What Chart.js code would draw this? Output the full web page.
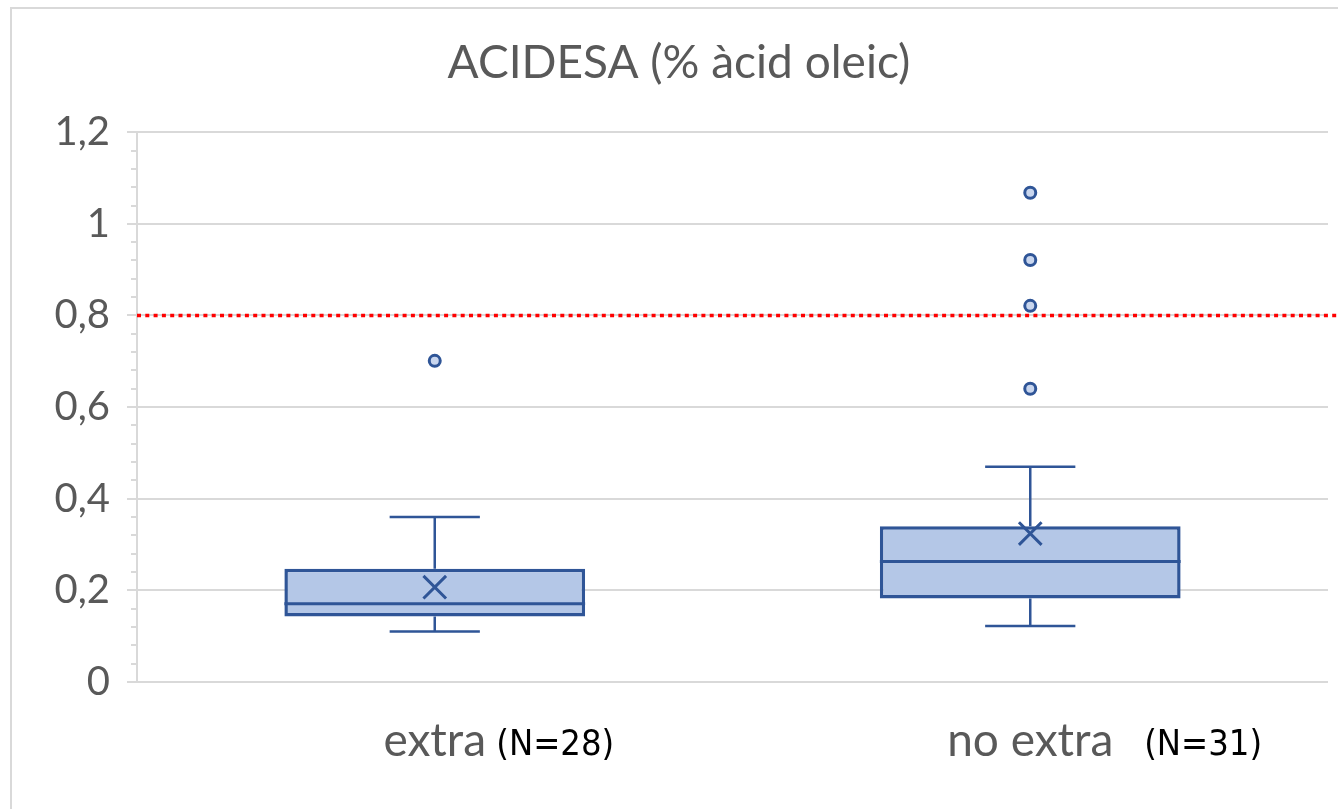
<!DOCTYPE html>
<html>
<head>
<meta charset="utf-8">
<script src="https://cdn.jsdelivr.net/npm/chart.js@4"></script>
<style>
    html, body { margin: 0; padding: 0; background: #fff; overflow: hidden; }
    #wrap { width: 1338px; height: 809px; position: relative; }
</style>
</head>
<body>
<div id="wrap"><canvas id="boxChart"></canvas></div>
<script>
// Box plot data
const categories = ['extra', 'no extra'];
const sampleSizes = [' (N=28)', '   (N=31)'];
const whiskerLow = [0.110, 0.122];
const q1 = [0.143, 0.182];
const median = [0.171, 0.263];
const q3 = [0.247, 0.340];
const whiskerHigh = [0.360, 0.470];
const means = [0.207, 0.324];
const outliers = [[0.701], [1.068, 0.921, 0.821, 0.640]];
const limitValue = 0.8;
const yTicks = [0, 0.2, 0.4, 0.6, 0.8, 1, 1.2];

const boxBlue = '#2f5597';
const boxFill = '#b4c7e7';
const textGrey = '#595959';
const gridGrey = '#d9d9d9';
const labelFont = '46px Lato';

const outlierPoints = [];
outliers.forEach((list, i) => list.forEach(v => outlierPoints.push({ x: categories[i], y: v })));

// frame, minor ticks, limit line, whiskers and N labels
const extrasPlugin = {
    id: 'extras',
    beforeDraw(chart) {
        const ctx = chart.ctx;
        ctx.save();
        ctx.fillStyle = '#fff';
        ctx.fillRect(0, 0, chart.width, chart.height);
        ctx.strokeStyle = gridGrey;
        ctx.lineWidth = 2;
        ctx.strokeRect(11, 8, chart.width + 20, chart.height + 20);
        ctx.restore();
    },
    beforeDatasetsDraw(chart) {
        const ctx = chart.ctx;
        const y = chart.scales.y;
        const area = chart.chartArea;
        ctx.save();
        // minor ticks
        ctx.strokeStyle = gridGrey;
        ctx.lineWidth = 2;
        for (let k = 0; k <= 30; k++) {
            const py = Math.round(y.getPixelForValue(k * 0.04));
            ctx.beginPath();
            ctx.moveTo(area.left - 6, py);
            ctx.lineTo(area.left, py);
            ctx.stroke();
        }
        // limit line
        const ly = y.getPixelForValue(limitValue);
        ctx.strokeStyle = '#ff0000';
        ctx.lineWidth = 3.5;
        ctx.setLineDash([4, 4.3]);
        ctx.beginPath();
        ctx.moveTo(area.left, ly);
        ctx.lineTo(chart.width, ly);
        ctx.stroke();
        ctx.restore();
    },
    afterDatasetDraw(chart, args) {
        if (args.meta.type !== 'bar') return;
        const ctx = chart.ctx;
        const y = chart.scales.y;
        ctx.save();
        ctx.strokeStyle = boxBlue;
        args.meta.data.forEach((bar, i) => {
            const cx = bar.x;
            const half = bar.width / 2;
            const cap = bar.width * 0.15;
            const lo = y.getPixelForValue(whiskerLow[i]);
            const hi = y.getPixelForValue(whiskerHigh[i]);
            const b1 = y.getPixelForValue(q1[i]);
            const b3 = y.getPixelForValue(q3[i]);
            const md = y.getPixelForValue(median[i]);
            ctx.lineWidth = 2.5;
            ctx.beginPath();
            ctx.moveTo(cx, b3); ctx.lineTo(cx, hi);
            ctx.moveTo(cx - cap, hi); ctx.lineTo(cx + cap, hi);
            ctx.moveTo(cx, b1); ctx.lineTo(cx, lo);
            ctx.moveTo(cx - cap, lo); ctx.lineTo(cx + cap, lo);
            ctx.stroke();
            ctx.lineWidth = 3;
            ctx.beginPath();
            ctx.moveTo(cx - half, md); ctx.lineTo(cx + half, md);
            ctx.stroke();
        });
        ctx.restore();
    },
    afterDraw(chart) {
        const ctx = chart.ctx;
        const x = chart.scales.x;
        ctx.save();
        ctx.textBaseline = 'middle';
        ctx.textAlign = 'left';
        categories.forEach((cat, i) => {
            ctx.font = labelFont;
            const w = ctx.measureText(cat).width;
            const px = x.getPixelForTick(i) + w / 2;
            ctx.font = '36px "DejaVu Sans Condensed", "Liberation Sans Narrow", "DejaVu Sans"';
            ctx.fillStyle = '#000';
            ctx.fillText(sampleSizes[i], px, 746);
        });
        ctx.restore();
    }
};

const ctx = document.getElementById('boxChart').getContext('2d');
new Chart(ctx, {
    type: 'bar',
    data: {
        labels: categories,
        datasets: [
            {
                label: 'mitjana',
                type: 'line',
                order: 1,
                showLine: false,
                data: categories.map((c, i) => ({ x: c, y: means[i] })),
                pointStyle: 'crossRot',
                pointRadius: 16,
                pointBorderWidth: 3,
                pointBorderColor: boxBlue,
                borderColor: boxBlue
            },
            {
                label: 'outliers',
                type: 'line',
                order: 2,
                showLine: false,
                data: outlierPoints,
                pointStyle: 'circle',
                pointRadius: 5.5,
                pointBorderWidth: 3,
                pointBorderColor: boxBlue,
                pointBackgroundColor: '#c9d6ee'
            },
            {
                label: 'caixa',
                order: 3,
                data: categories.map((c, i) => [q1[i], q3[i]]),
                backgroundColor: boxFill,
                borderColor: boxBlue,
                borderWidth: 3.5,
                borderSkipped: false,
                categoryPercentage: 1,
                barPercentage: 0.505
            }
        ]
    },
    options: {
        responsive: true,
        maintainAspectRatio: false,
        animation: false,
        layout: { autoPadding: false, padding: { left: 30, right: 10, top: 0, bottom: 0 } },
        plugins: {
            legend: { display: false },
            tooltip: { enabled: false },
            title: {
                display: true,
                text: 'ACIDESA (% àcid oleic)',
                color: textGrey,
                font: { family: 'Lato', size: 46, weight: 'normal' },
                padding: { top: 36, bottom: 41 }
            }
        },
        scales: {
            x: {
                grid: { display: false, drawTicks: false },
                border: { display: false },
                ticks: {
                    color: textGrey,
                    font: { family: 'Lato', size: 46 },
                    padding: 32
                },
                afterFit(scale) {
                    scale.height = 127;
                    scale.paddingLeft = 0;
                    scale.paddingRight = 0;
                }
            },
            y: {
                min: 0,
                max: 1.2,
                afterBuildTicks(scale) { scale.ticks = yTicks.map(v => ({ value: v })); },
                grid: { color: gridGrey, lineWidth: 2, tickLength: 10 },
                border: { display: true, color: gridGrey, width: 2 },
                ticks: {
                    color: textGrey,
                    font: { family: 'Lato', size: 40 },
                    padding: 17,
                    callback: v => String(v).replace('.', ',')
                },
                afterFit(scale) { scale.width = 107; }
            }
        }
    },
    plugins: [extrasPlugin]
});
</script>
</body>
</html>
